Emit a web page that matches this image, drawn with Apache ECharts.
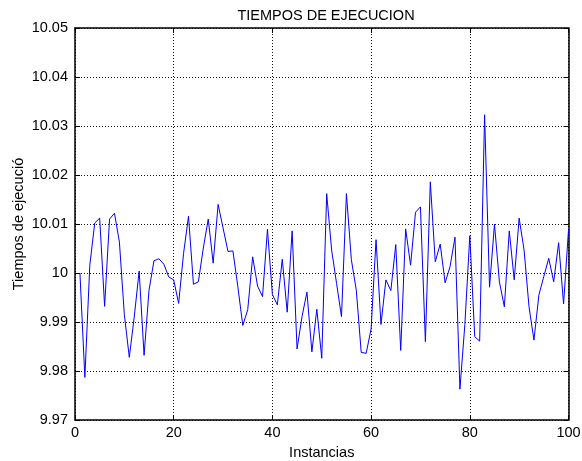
<!DOCTYPE html>
<html>
<head>
<meta charset="utf-8">
<script src="https://cdn.jsdelivr.net/npm/echarts@6/dist/echarts.min.js"></script>
<style>
html,body{margin:0;padding:0;background:#fff;}
#chart{width:582px;height:461px;}
</style>
</head>
<body>
<div id="chart"></div>
<script>
const titleText = 'TIEMPOS DE EJECUCION';
const xName = 'Instancias';
const yName = 'Tiempos de ejecució';
const instancias = [
  1,2,3,4,5,6,7,8,9,10,11,12,13,14,15,16,17,18,19,20,
  21,22,23,24,25,26,27,28,29,30,31,32,33,34,35,36,37,38,39,40,
  41,42,43,44,45,46,47,48,49,50,51,52,53,54,55,56,57,58,59,60,
  61,62,63,64,65,66,67,68,69,70,71,72,73,74,75,76,77,78,79,80,
  81,82,83,84,85,86,87,88,89,90,91,92,93,94,95,96,97,98,99,100
];
const tiempos = [
  10.000, 9.9787, 10.0016, 10.0102, 10.0112, 9.9932, 10.011, 10.0122, 10.0063, 9.9915,
  9.9828, 9.991, 10.0004, 9.9832, 9.9965, 10.0025, 10.0029, 10.0018, 9.9992, 9.9986,
  9.9938, 10.004, 10.0116, 9.9977, 9.9982, 10.0051, 10.011, 10.002, 10.014, 10.0092,
  10.0044, 10.0045, 9.9972, 9.9893, 9.9925, 10.0033, 9.9973, 9.9952, 10.0089, 9.9956,
  9.9935, 10.0028, 9.992, 10.0086, 9.9845, 9.9911, 9.9961, 9.9839, 9.9926, 9.9826,
  10.0162, 10.0047, 9.9979, 9.9911, 10.0162, 10.0027, 9.9965, 9.9838, 9.9836, 9.9886,
  10.0068, 9.9895, 9.9986, 9.9964, 10.0058, 9.9842, 10.009, 10.0016, 10.0124, 10.0135,
  9.986, 10.0186, 10.0023, 10.0059, 9.998, 10.0013, 10.0073, 9.9763, 9.9895, 10.0076,
  9.987, 9.9861, 10.0323, 9.9971, 10.010, 9.9982, 9.9931, 10.0086, 9.9986, 10.0112,
  10.0047, 9.9931, 9.9863, 9.9955, 9.9993, 10.003, 9.9982, 10.0062, 9.9937, 10.0088
];
const xTicks = {min: 0, max: 100, interval: 20};
const yTicks = {min: 9.97, max: 10.05, interval: 0.01};

const font = 'Liberation Sans, Arial, sans-serif';
const fs = 14.5;
const chart = echarts.init(document.getElementById('chart'), null, {renderer: 'canvas'});
const fmtY = v => String(parseFloat(v.toFixed(2)));
const gridLine = {show: true, lineStyle: {color: '#111', width: 1, type: [1, 2]}};
const axLine = {show: true, onZero: false, lineStyle: {color: '#000', width: 1.5}};
const tick = {show: true, inside: true, length: 5, lineStyle: {color: '#000', width: 1}};

chart.setOption({
  animation: false,
  backgroundColor: '#fff',
  title: {
    text: titleText, left: 321, top: 3, textAlign: 'center',
    textStyle: {fontFamily: font, fontSize: fs, fontWeight: 'normal', color: '#000'}
  },
  grid: {left: 75, right: 13.5, top: 28, bottom: 41, containLabel: false, outerBoundsMode: 'none'},
  xAxis: [{
    type: 'value', position: 'bottom', min: xTicks.min, max: xTicks.max, interval: xTicks.interval,
    name: xName, nameLocation: 'middle', nameGap: 25, nameMoveOverlap: false,
    nameTextStyle: {fontFamily: font, fontSize: fs, color: '#000'},
    axisLine: axLine, axisTick: tick, splitLine: gridLine,
    axisLabel: {fontFamily: font, fontSize: fs, color: '#000', margin: 5}
  }, {
    type: 'value', position: 'top', min: xTicks.min, max: xTicks.max, interval: xTicks.interval,
    axisLine: axLine, axisTick: tick, splitLine: {show: false}, axisLabel: {show: false}
  }],
  yAxis: [{
    type: 'value', position: 'left', min: yTicks.min, max: yTicks.max, interval: yTicks.interval,
    name: yName, nameLocation: 'middle', nameGap: 49, nameRotate: 90, nameMoveOverlap: false,
    nameTextStyle: {fontFamily: font, fontSize: fs, color: '#000'},
    axisLine: axLine, axisTick: tick, splitLine: gridLine,
    axisLabel: {fontFamily: font, fontSize: fs, color: '#000', margin: 7, formatter: fmtY}
  }, {
    type: 'value', position: 'right', min: yTicks.min, max: yTicks.max, interval: yTicks.interval,
    axisLine: axLine, axisTick: tick, splitLine: {show: false}, axisLabel: {show: false}
  }],
  series: [{
    type: 'line', xAxisIndex: 0, yAxisIndex: 0,
    data: instancias.map((x, i) => [x, tiempos[i]]),
    showSymbol: false, symbol: 'none',
    lineStyle: {color: '#0000ff', width: 1},
    itemStyle: {color: '#0000ff'}
  }]
});
</script>
</body>
</html>
